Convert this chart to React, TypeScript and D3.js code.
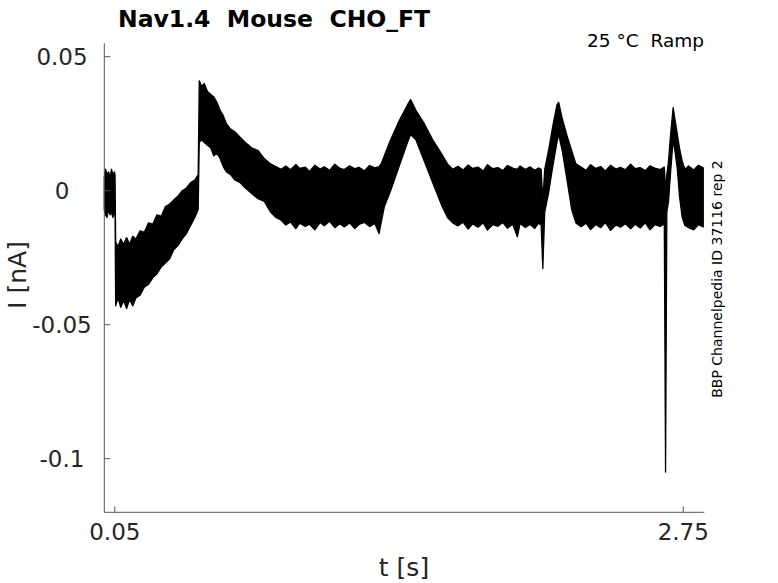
import React from "react";
import * as d3 from "d3";

// Time knots (s) of the recorded current trace envelope
const tKnots = [
  0.0, 0.006, 0.013, 0.02, 0.027, 0.034, 0.041, 0.048, 0.051,
  0.054, 0.065, 0.078, 0.092, 0.106, 0.12, 0.135, 0.15, 0.17, 0.19, 0.21, 0.23, 0.25, 0.27, 0.29, 0.31, 0.33, 0.35, 0.37, 0.39, 0.41, 0.43, 0.446,
  0.451, 0.462, 0.475, 0.49, 0.505, 0.52, 0.535, 0.55, 0.565, 0.58, 0.6, 0.62, 0.645, 0.67, 0.7, 0.73, 0.76, 0.79, 0.815, 0.84,
  0.862, 0.885, 0.91, 0.928, 0.955, 0.975, 1.0, 1.025, 1.045, 1.07, 1.095, 1.118, 1.14, 1.165, 1.19, 1.21, 1.235, 1.26, 1.285, 1.305, 1.315,
  1.33, 1.36, 1.4, 1.44, 1.455, 1.48, 1.52, 1.56, 1.6, 1.63, 1.655,
  1.68, 1.705, 1.728, 1.75, 1.775, 1.8, 1.82, 1.845, 1.87, 1.893, 1.915, 1.94, 1.962, 1.975, 2.0, 2.022, 2.045, 2.062, 2.075,
  2.083, 2.092, 2.11, 2.13, 2.15, 2.158, 2.175, 2.2, 2.22, 2.24,
  2.265, 2.288, 2.31, 2.335, 2.358, 2.38, 2.405, 2.43, 2.452, 2.475, 2.5, 2.522, 2.545, 2.57, 2.592, 2.615, 2.64, 2.66,
  2.666, 2.672, 2.68, 2.69, 2.702, 2.712, 2.722, 2.732, 2.745, 2.758, 2.775, 2.8, 2.822, 2.845,
];

// Upper edge of the noisy current band (nA)
const upperI = [
  0.005, 0.008, 0.006, 0.007, 0.005, 0.008, 0.006, 0.007, 0.006,
  -0.019, -0.021, -0.018, -0.02, -0.0175, -0.02, -0.017, -0.018, -0.015, -0.0155, -0.012, -0.0125, -0.009, -0.0095, -0.006, -0.005, -0.0035, -0.002, 0.0, 0.001, 0.003, 0.004, 0.006,
  0.041, 0.039, 0.04, 0.037, 0.036, 0.035, 0.033, 0.03, 0.028, 0.025, 0.023, 0.022, 0.02, 0.018, 0.016, 0.015, 0.012, 0.01, 0.009, 0.008,
  0.0092, 0.0078, 0.0098, 0.0083, 0.0088, 0.0072, 0.0095, 0.0081, 0.0089, 0.0076, 0.0099, 0.0084, 0.0079, 0.0093, 0.0082, 0.0087, 0.0074, 0.0094, 0.0085, 0.009, 0.01,
  0.013, 0.019, 0.026, 0.032, 0.034, 0.03, 0.025, 0.019, 0.014, 0.01, 0.008,
  0.0091, 0.0077, 0.0096, 0.0083, 0.0088, 0.0073, 0.0097, 0.0082, 0.0086, 0.0075, 0.0094, 0.0084, 0.008, 0.0092, 0.0079, 0.0089, 0.0076, 0.0085, 0.008,
  -0.004, 0.008, 0.015, 0.024, 0.032, 0.033, 0.027, 0.02, 0.015, 0.01,
  0.0088, 0.0076, 0.0097, 0.0083, 0.009, 0.0074, 0.0095, 0.0081, 0.0087, 0.0078, 0.0099, 0.0082, 0.0086, 0.0075, 0.0093, 0.0084, 0.0079, 0.0088,
  0.0, 0.006, 0.011, 0.021, 0.031, 0.026, 0.021, 0.016, 0.011, 0.008, 0.0092, 0.0077, 0.0095, 0.0085,
];

// Lower edge of the noisy current band (nA)
const lowerI = [
  -0.007, -0.009, -0.01, -0.007, -0.009, -0.008, -0.01, -0.008, -0.007,
  -0.043, -0.04, -0.0435, -0.041, -0.044, -0.0405, -0.043, -0.04, -0.039, -0.036, -0.035, -0.0325, -0.031, -0.0285, -0.027, -0.0255, -0.022, -0.0205, -0.018, -0.016, -0.013, -0.01, -0.007,
  0.018, 0.019, 0.018, 0.017, 0.016, 0.013, 0.014, 0.012, 0.009, 0.007, 0.006, 0.004, 0.003, 0.001, -0.001, -0.003, -0.004, -0.008, -0.01, -0.011,
  -0.0128, -0.0117, -0.0142, -0.0121, -0.0133, -0.0125, -0.0146, -0.0119, -0.0131, -0.0114, -0.0138, -0.0123, -0.0135, -0.012, -0.0141, -0.0126, -0.0118, -0.0134, -0.0122, -0.016, -0.012,
  -0.006, 0.0, 0.009, 0.018, 0.021, 0.019, 0.011, 0.003, -0.005, -0.01, -0.012,
  -0.0131, -0.0118, -0.0143, -0.0124, -0.0136, -0.012, -0.0147, -0.0127, -0.0133, -0.0119, -0.014, -0.0125, -0.0172, -0.0122, -0.0137, -0.0126, -0.0141, -0.0121, -0.0128,
  -0.029, -0.008, -0.001, 0.009, 0.018, 0.021, 0.015, 0.003, -0.007, -0.012,
  -0.0134, -0.0121, -0.0145, -0.0126, -0.0138, -0.0119, -0.0148, -0.0128, -0.0136, -0.0123, -0.0142, -0.0125, -0.0139, -0.012, -0.0146, -0.0127, -0.0133, -0.0124,
  -0.105, -0.008, -0.004, 0.007, 0.019, 0.014, 0.008, -0.002, -0.01, -0.013, -0.0138, -0.0146, -0.0127, -0.0135,
];

const yTicks = [0.05, 0, -0.05, -0.1];
const yTickLabels = ["0.05", "0", "-0.05", "-0.1"];
const xTicks = [0.05, 2.75];
const xTickLabels = ["0.05", "2.75"];

const title = "Nav1.4  Mouse  CHO_FT";
const subtitle = "25 °C  Ramp";
const sideNote = "BBP Channelpedia ID 37116 rep 2";

const W = 778;
const H = 583;
const left = 104.3;
const right = 704.3;
const top = 43.3;
const bottom = 512.3;

export default function App() {
  const x = d3.scaleLinear().domain([0, 2.85]).range([left, right]);
  const y = d3.scaleLinear().domain([-0.12, 0.055]).range([bottom, top]);

  const pts = tKnots.map((t, i) => ({ t, hi: upperI[i], lo: lowerI[i] }));
  const area = d3
    .area<{ t: number; hi: number; lo: number }>()
    .x((d) => x(d.t))
    .y0((d) => y(d.lo))
    .y1((d) => y(d.hi));

  const font = "'DejaVu Sans', sans-serif";
  const axisColor = "#555";
  const textColor = "#262626";
  const pre = { whiteSpace: "pre" as const };

  return (
    <div style={{ position: "absolute", left: 0, top: 0 }}>
      <svg width={W} height={H} style={{ display: "block", background: "#fff" }}>
        <path d={area(pts) || ""} fill="#000" stroke="#000" strokeWidth={1.3} strokeLinejoin="round" />

        {/* axes */}
        <line x1={left} x2={left} y1={top} y2={bottom} stroke={axisColor} strokeWidth={1} />
        <line x1={left} x2={right} y1={bottom} y2={bottom} stroke={axisColor} strokeWidth={1} />

        {yTicks.map((v, i) => (
          <g key={"y" + i}>
            <line x1={left} x2={left + 6} y1={y(v)} y2={y(v)} stroke={axisColor} strokeWidth={1} />
            <text
              x={62}
              y={y(v)}
              textAnchor="middle"
              dominantBaseline="central"
              fontFamily={font}
              fontSize={23}
              fill={textColor}
            >
              {yTickLabels[i]}
            </text>
          </g>
        ))}

        {xTicks.map((v, i) => (
          <g key={"x" + i}>
            <line x1={x(v)} x2={x(v)} y1={bottom} y2={bottom - 6} stroke={axisColor} strokeWidth={1} />
            <text
              x={x(v)}
              y={540}
              textAnchor="middle"
              fontFamily={font}
              fontSize={23}
              fill={textColor}
            >
              {xTickLabels[i]}
            </text>
          </g>
        ))}

        <text x={404} y={576} textAnchor="middle" fontFamily={font} fontSize={25} fill={textColor}>
          t [s]
        </text>
        <text
          transform="translate(26,275) rotate(-90)"
          textAnchor="middle"
          fontFamily={font}
          fontSize={25}
          fill={textColor}
        >
          I [nA]
        </text>

        <text x={118} y={27} fontFamily={font} fontWeight="bold" fontSize={23.5} fill="#000" style={pre}>
          {title}
        </text>
        <text x={704} y={47} textAnchor="end" fontFamily={font} fontSize={18.5} fill="#000" style={pre}>
          {subtitle}
        </text>
        <text
          transform="translate(722,279) rotate(-90)"
          textAnchor="middle"
          fontFamily={font}
          fontSize={14}
          fill="#000"
        >
          {sideNote}
        </text>
      </svg>
    </div>
  );
}
